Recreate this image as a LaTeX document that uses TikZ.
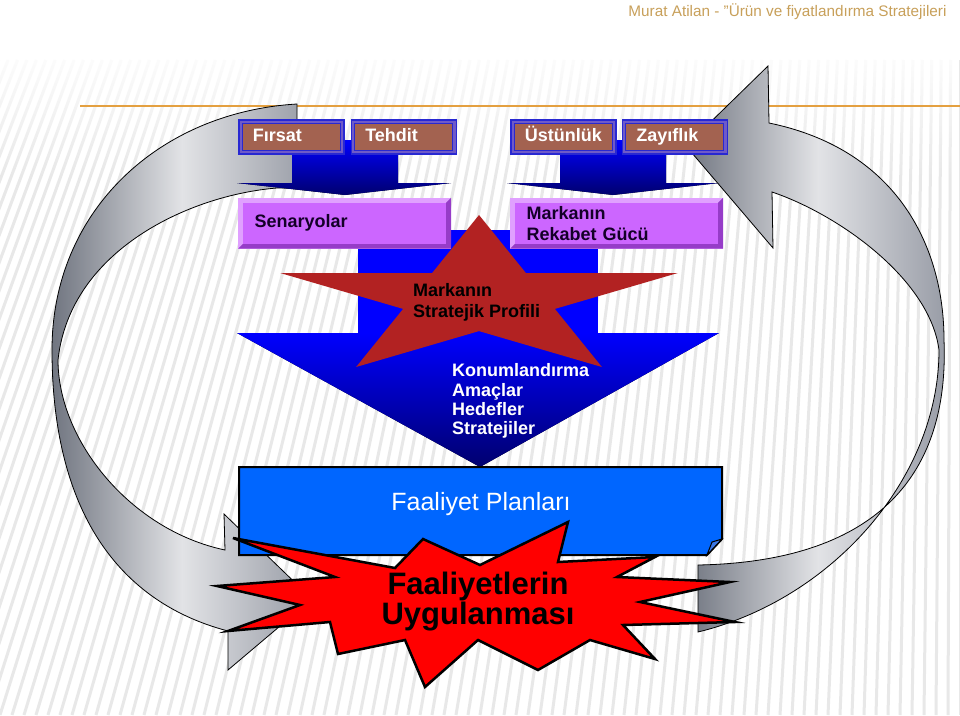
\documentclass[tikz,border=0pt]{standalone}
\usepackage{fontspec}
\setmainfont{Liberation Sans}
\usepackage{tikz}
\usetikzlibrary{positioning}
\usetikzlibrary{fadings}

\definecolor{swotbrown}{RGB}{163,98,80}
\definecolor{swotblue}{RGB}{40,40,210}
\definecolor{swotbevel}{RGB}{110,90,200}
\definecolor{senlight}{RGB}{224,160,255}
\definecolor{senmid}{RGB}{204,102,255}
\definecolor{sendark}{RGB}{150,60,200}
\definecolor{sentext}{RGB}{20,0,40}
\definecolor{arrownavy}{RGB}{0,0,110}
\definecolor{starred}{RGB}{178,34,34}
\definecolor{planblue}{RGB}{0,102,255}
\definecolor{foldblue}{RGB}{60,120,230}
\definecolor{boomred}{RGB}{255,0,0}
\definecolor{ribdark}{RGB}{112,117,128}
\definecolor{riblight}{RGB}{226,227,230}
\definecolor{ribmid}{RGB}{150,154,164}
\definecolor{headtan}{RGB}{200,160,90}
\definecolor{headline}{RGB}{228,160,64}
\definecolor{stripegray}{RGB}{232,232,232}

\tikzfading[name=topfade, top color=transparent!0, bottom color=transparent!100]

\begin{document}
\begin{tikzpicture}
          [x=1pt, y=-1pt,
           swotbox/.style={draw=swotblue, line width=1.5pt, fill=swotbrown,
             minimum width=105pt, minimum height=34pt, inner xsep=14pt, inner ysep=0pt,
             text width=77pt, text height=13pt, text depth=4pt, align=left, text=white,
             font=\fontsize{18}{21}\selectfont\bfseries,
             path picture={
               \draw[swotbevel, line width=6pt] (path picture bounding box.south west) rectangle (path picture bounding box.north east);
               \draw[swotblue, line width=0.6pt] ([shift={(3.5pt,3.5pt)}]path picture bounding box.south west) rectangle ([shift={(-3.5pt,-3.5pt)}]path picture bounding box.north east);}},
           senbox/.style={fill=senlight, minimum width=213pt, minimum height=51pt,
             inner xsep=16.5pt, text width=180pt, align=left, text=sentext,
             font=\fontsize{18}{21}\selectfont\bfseries,
             path picture={
               \fill[sendark] (path picture bounding box.south west) -- (path picture bounding box.south east) -- (path picture bounding box.north east) -- ++(-5pt,-5pt) |- ([shift={(5pt,5pt)}]path picture bounding box.south west) -- cycle;
               \fill[senmid] ([shift={(5pt,5pt)}]path picture bounding box.south west) rectangle ([shift={(-5pt,-5pt)}]path picture bounding box.north east);}},
           ribbon/.style={draw=black, line width=0.8pt, left color=ribdark, right color=ribmid, middle color=riblight},
           bluearrow/.style={top color=blue, bottom color=arrownavy},
           boom/.style={fill=boomred, draw=black, line width=2.5pt},
           stripe/.style={stripegray, line width=3pt}]
          \useasboundingbox (0,0) rectangle (960,715);

          % background
          \fill[white] (0,0) rectangle (960,715);
          \foreach \b in {-264,-252,...,960}
            \draw[stripe] (\b,715) -- ({\b+206*(1-\b/960)},60);
          \fill[white, path fading=topfade] (0,40) rectangle (960,180);
          \fill[white] (0,0) rectangle (960,50);
          \draw[headline, line width=1.5pt] (80,106) -- (960,106);
          \node[anchor=east, text=headtan, font=\fontsize{15.3}{17}\selectfont] (baslik) at (950,12) {Murat Atilan - "Ürün ve fiyatlandırma Stratejileri};

          % gray loops
          \draw[ribbon] (297,104) .. controls (160,112) and (52,210) .. (52,350)
            .. controls (52,500) and (110,600) .. (228,631)
            -- (228,670) -- (312,599) -- (224,514) -- (225,550)
            .. controls (130,530) and (58,440) .. (58,360)
            .. controls (70,250) and (190,195) .. (277,188)
            -- (297,188) -- cycle;
          \draw[ribbon] (772,192) -- (773,248) -- (686,146) -- (768,66) -- (769,123)
            .. controls (900,150) and (944,250) .. (944,340)
            .. controls (950,490) and (860,562) .. (698,565)
            -- (698,632)
            .. controls (830,600) and (939,480) .. (939,350)
            .. controls (930,280) and (840,215) .. (772,192) -- cycle;

          % blue arrows
          \fill[bluearrow] (292,140) -- (398,140) -- (398,183) -- (451,183) -- (345,195) -- (237,183) -- (292,183) -- cycle;
          \fill[bluearrow] (560,140) -- (666,140) -- (666,183) -- (719,183) -- (613,195) -- (507,183) -- (560,183) -- cycle;
          \fill[blue] (358,230) rectangle (598,334);
          \fill[top color=blue, bottom color=arrownavy] (237,333) -- (719,333) -- (480,467) -- cycle;

          % boxes
          \node[swotbox, anchor=north west] (firsat) at (238,119) {Fırsat};
          \node[swotbox, right=6pt of firsat] (tehdit) {Tehdit};
          \node[swotbox, right=53pt of tehdit] (ustunluk) {Üstünlük};
          \node[swotbox, right=5pt of ustunluk] (zayiflik) {Zayıflık};
          \node[senbox, below=43pt of firsat.south west, anchor=north west] (senaryo) {Senaryolar};
          \node[senbox, below=43pt of ustunluk.south west, anchor=north west] (rekabet) {Markanın\\Rekabet Gücü};

          % star
          \fill[starred] (479,215) -- (432.1,273) -- (280.2,273) -- (403.1,308.9) -- (356.1,367)
            -- (479,331.1) -- (601.9,367) -- (554.9,308.9) -- (677.8,273) -- (525.9,273) -- cycle;
          \node[anchor=west, align=left, inner sep=0, font=\fontsize{18}{21.5}\selectfont\bfseries] (profil) at (413,302.5) {Markanın\\Stratejik Profili};
          \node[anchor=west, align=left, inner sep=0, text=white, font=\fontsize{18}{19.3}\selectfont\bfseries] (hedef) at (452,401) {Konumlandırma\\Amaçlar\\Hedefler\\Stratejiler};

          % action plans
          \filldraw[fill=planblue, draw=black, line width=2pt] (239,467) -- (722,467) -- (722,539) -- (707,555) -- (239,555) -- cycle;
          \filldraw[fill=foldblue, draw=black, line width=1pt] (707,555) -- (712,542) -- (722,539) -- cycle;
          \node[text=white, font=\fontsize{25}{28}\selectfont] (plan) at (481,504) {Faaliyet Planları};

          % explosion
          \filldraw[boom] (233,538) -- (395,568) -- (423,539) -- (480,565) -- (568,522) -- (558,562)
            -- (655,557) -- (617,577) -- (730,582) -- (640,602) -- (735,622) -- (623,625)
            -- (655,659) -- (590,640) -- (538,670) -- (478,640) -- (425,687) -- (405,640)
            -- (338,654) -- (330,622) -- (228,631) -- (300,605) -- (217,586) -- (335,577) -- cycle;
          \node[align=center, inner sep=0, font=\fontsize{31}{30}\selectfont\bfseries] (uygulama) at (478,602) {Faaliyetlerin\\Uygulanması};
        \end{tikzpicture}
\end{document}
